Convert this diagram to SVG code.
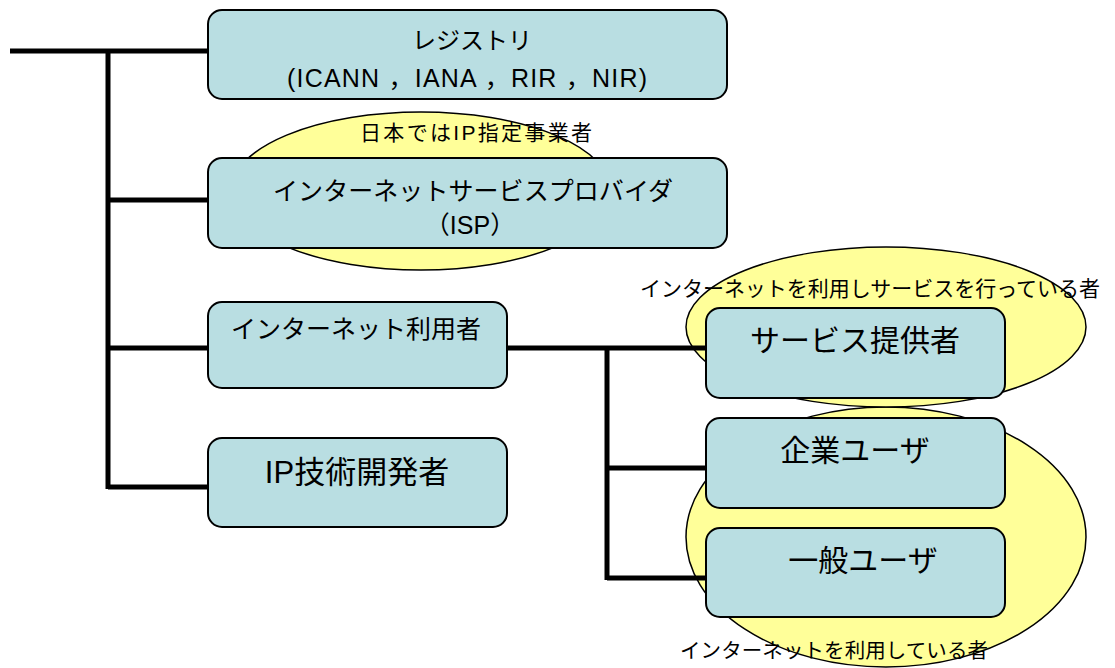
<svg xmlns="http://www.w3.org/2000/svg" width="1115" height="668" viewBox="0 0 1115 668">
  <style>
    .box { fill: #B9DEE2; stroke: #000; stroke-width: 2; }
    .zone { fill: #FFFF99; stroke: #000; stroke-width: 1.5; }
    .wire { stroke: #000; stroke-width: 5; fill: none; stroke-linecap: butt; }
    text { font-family: "Liberation Sans", "Noto Sans CJK JP", sans-serif; fill: #000; text-anchor: middle; }
    .note { font-size: 21px; }
  </style>

  <!-- background -->
  <rect width="1115" height="668" fill="#FFFFFF"/>

  <!-- grouping ellipses -->
  <g id="zones">
    <ellipse class="zone" cx="421" cy="191" rx="190" ry="79"/>
    <ellipse class="zone" cx="886" cy="537" rx="200" ry="130"/>
    <ellipse class="zone" cx="886" cy="327" rx="200" ry="80"/>
  </g>

  <!-- connectors -->
  <g id="connectors">
    <path class="wire" d="M10 51 H208"/>
    <path class="wire" d="M108 51 V489"/>
    <path class="wire" d="M108 200 H208"/>
    <path class="wire" d="M108 348 H208"/>
    <path class="wire" d="M108 487 H208"/>
    <path class="wire" d="M507 348 H706"/>
    <path class="wire" d="M607 348 V580"/>
    <path class="wire" d="M607 468 H706"/>
    <path class="wire" d="M607 578 H706"/>
  </g>

  <!-- zone labels -->
  <g id="zone-labels">
    <text class="note" x="476" y="140" textLength="232" lengthAdjust="spacing">日本ではIP指定事業者</text>
    <text class="note" x="870" y="296" textLength="460" lengthAdjust="spacing">インターネットを利用しサービスを行っている者</text>
    <text x="834" y="658" font-size="20.5" textLength="308" lengthAdjust="spacing">インターネットを利用している者</text>
  </g>

  <g id="registry">
    <rect class="box" x="208" y="10" width="519" height="89" rx="14"/>
    <text x="472" y="49" font-size="24">レジストリ</text>
    <text x="467" y="87" font-size="25" textLength="360" lengthAdjust="spacing">(ICANN ，IANA ，RIR ，NIR)</text>
  </g>

  <g id="isp">
    <rect class="box" x="208" y="158" width="519" height="90" rx="14"/>
    <text x="473" y="200" font-size="25" textLength="400" lengthAdjust="spacing">インターネットサービスプロバイダ</text>
    <text x="470" y="234" font-size="25">（ISP）</text>
  </g>

  <g id="internet-user">
    <rect class="box" x="208" y="302" width="299" height="86" rx="14"/>
    <text x="356" y="338" font-size="25">インターネット利用者</text>
  </g>

  <g id="ip-developer">
    <rect class="box" x="208" y="438" width="299" height="89" rx="14"/>
    <text x="357" y="483" font-size="31">IP技術開発者</text>
  </g>

  <g id="service-provider">
    <rect class="box" x="706" y="308" width="299" height="90" rx="14"/>
    <text x="855" y="351" font-size="30">サービス提供者</text>
  </g>

  <g id="corporate-user">
    <rect class="box" x="706" y="418" width="299" height="90" rx="14"/>
    <text x="855" y="461" font-size="30">企業ユーザ</text>
  </g>

  <g id="general-user">
    <rect class="box" x="706" y="528" width="299" height="89" rx="14"/>
    <text x="863" y="571" font-size="30">一般ユーザ</text>
  </g>
</svg>
